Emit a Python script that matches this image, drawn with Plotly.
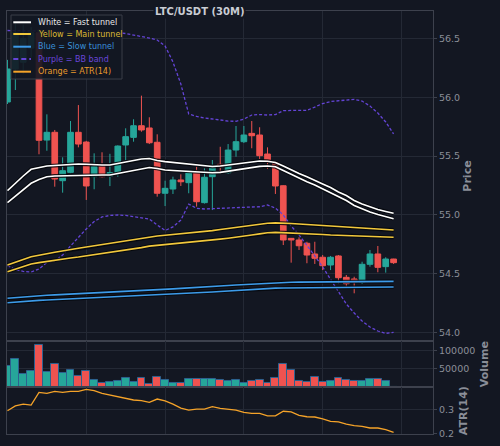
import plotly.graph_objects as go
from plotly.subplots import make_subplots

# ---------------- data ----------------
candle_idx = list(range(50))

open_ = [55.961, 56.242, 56.300, 56.420, 56.550, 55.637, 55.703, 55.291, 55.362, 55.703,
         55.620, 55.325, 55.416, 55.330, 55.359, 55.595, 55.660, 55.759, 55.740, 55.618,
         55.184, 55.220, 55.297, 55.274, 55.373, 55.104, 55.325, 55.430, 55.359, 55.552,
         55.623, 55.694, 55.680, 55.518, 55.444, 55.248, 54.800, 54.786, 54.758, 54.667,
         54.639, 54.573, 54.650, 54.468, 54.454, 54.426, 54.579, 54.667, 54.559, 54.624]
high = [56.320, 56.630, 56.620, 56.600, 56.580, 55.856, 55.723, 55.490, 55.799, 55.935,
        55.630, 55.524, 55.533, 55.520, 55.592, 55.737, 55.814, 56.015, 55.831, 55.686,
        55.291, 55.325, 55.345, 55.380, 55.410, 55.396, 55.467, 55.580, 55.603, 55.757,
        55.757, 55.799, 55.746, 55.575, 55.452, 55.252, 54.803, 54.809, 54.771, 54.771,
        54.658, 54.650, 54.658, 54.488, 54.473, 54.601, 54.701, 54.735, 54.639, 54.626]
low = [55.944, 56.063, 56.200, 56.340, 55.516, 55.546, 55.240, 55.189, 55.355, 55.575,
       55.127, 55.218, 55.318, 55.245, 55.325, 55.467, 55.623, 55.708, 55.603, 55.155,
       55.075, 55.178, 55.246, 55.184, 55.070, 55.096, 55.041, 55.354, 55.350, 55.495,
       55.612, 55.567, 55.476, 55.391, 55.178, 54.743, 54.593, 54.701, 54.588, 54.582,
       54.530, 54.530, 54.417, 54.388, 54.332, 54.411, 54.559, 54.511, 54.508, 54.582]
close = [56.242, 56.550, 56.500, 56.550, 55.635, 55.703, 55.305, 55.376, 55.703, 55.603,
         55.246, 55.410, 55.325, 55.360, 55.586, 55.666, 55.759, 55.723, 55.614, 55.184,
         55.226, 55.297, 55.282, 55.373, 55.112, 55.320, 55.410, 55.410, 55.552, 55.623,
         55.680, 55.674, 55.504, 55.453, 55.246, 54.786, 54.786, 54.737, 54.658, 54.630,
         54.567, 54.639, 54.465, 54.414, 54.428, 54.579, 54.667, 54.553, 54.624, 54.593]

volume = [57000, 76900, 37400, 43600, 114500, 40900, 63400, 39200, 48100, 30100,
          44600, 20400, 11300, 14000, 17700, 26600, 13200, 26600, 9700, 29300,
          21200, 12400, 11300, 23900, 22000, 23100, 22000, 21200, 18500, 21200,
          12400, 16700, 19400, 11300, 24700, 63400, 46200, 17700, 14000, 29300,
          14000, 16700, 25800, 20400, 16700, 16700, 22000, 23900, 16700, 0]

atr14 = [0.294, 0.314, 0.322, 0.318, 0.371, 0.367, 0.375, 0.371, 0.375, 0.375,
         0.383, 0.378, 0.367, 0.360, 0.354, 0.348, 0.339, 0.336, 0.329, 0.343,
         0.335, 0.322, 0.305, 0.297, 0.301, 0.301, 0.311, 0.304, 0.300, 0.297,
         0.287, 0.283, 0.283, 0.273, 0.273, 0.292, 0.289, 0.275, 0.269, 0.268,
         0.260, 0.250, 0.248, 0.238, 0.232, 0.229, 0.222, 0.222, 0.215, 0.204]

fast_upper = [55.207, 55.271, 55.331, 55.388, 55.403, 55.416, 55.420, 55.425, 55.429, 55.433,
              55.431, 55.426, 55.425, 55.425, 55.437, 55.450, 55.463, 55.476, 55.480, 55.463,
              55.453, 55.446, 55.437, 55.429, 55.425, 55.416, 55.412, 55.416, 55.425, 55.433,
              55.446, 55.454, 55.459, 55.457, 55.446, 55.416, 55.382, 55.352, 55.325, 55.297,
              55.263, 55.233, 55.195, 55.165, 55.122, 55.092, 55.067, 55.046, 55.029, 55.013]
fast_lower = [55.105, 55.161, 55.212, 55.269, 55.301, 55.325, 55.331, 55.333, 55.335, 55.339,
              55.339, 55.339, 55.339, 55.339, 55.352, 55.365, 55.382, 55.395, 55.403, 55.395,
              55.382, 55.378, 55.373, 55.371, 55.365, 55.361, 55.359, 55.362, 55.373, 55.382,
              55.396, 55.408, 55.413, 55.416, 55.410, 55.378, 55.344, 55.314, 55.282, 55.254,
              55.220, 55.190, 55.156, 55.122, 55.080, 55.050, 55.024, 55.003, 54.984, 54.967]
main_upper = [54.573, 54.599, 54.620, 54.643, 54.658, 54.669, 54.681, 54.694, 54.706, 54.716,
              54.726, 54.737, 54.746, 54.755, 54.765, 54.777, 54.789, 54.801, 54.813, 54.820,
              54.826, 54.832, 54.837, 54.843, 54.849, 54.857, 54.866, 54.875, 54.885, 54.894,
              54.903, 54.912, 54.921, 54.929, 54.932, 54.931, 54.926, 54.922, 54.918, 54.914,
              54.909, 54.904, 54.900, 54.896, 54.891, 54.886, 54.882, 54.878, 54.875, 54.871]
main_lower = [54.516, 54.539, 54.560, 54.582, 54.593, 54.604, 54.616, 54.624, 54.633, 54.641,
              54.651, 54.660, 54.668, 54.678, 54.685, 54.698, 54.709, 54.721, 54.734, 54.740,
              54.746, 54.752, 54.757, 54.763, 54.769, 54.777, 54.784, 54.793, 54.801, 54.808,
              54.817, 54.828, 54.838, 54.848, 54.851, 54.849, 54.846, 54.844, 54.841, 54.837,
              54.833, 54.829, 54.826, 54.824, 54.822, 54.819, 54.817, 54.814, 54.811, 54.809]
slow_upper = [54.290, 54.296, 54.302, 54.309, 54.312, 54.316, 54.319, 54.322, 54.326, 54.329,
              54.333, 54.335, 54.338, 54.341, 54.345, 54.349, 54.352, 54.356, 54.359, 54.364,
              54.367, 54.370, 54.374, 54.377, 54.382, 54.385, 54.389, 54.393, 54.398, 54.403,
              54.407, 54.411, 54.415, 54.420, 54.423, 54.425, 54.426, 54.427, 54.428, 54.429,
              54.430, 54.431, 54.432, 54.432, 54.433, 54.433, 54.434, 54.434, 54.434, 54.434]
slow_lower = [54.252, 54.258, 54.264, 54.269, 54.272, 54.275, 54.278, 54.281, 54.284, 54.287,
              54.290, 54.293, 54.295, 54.299, 54.302, 54.306, 54.309, 54.312, 54.316, 54.319,
              54.322, 54.325, 54.328, 54.332, 54.335, 54.339, 54.343, 54.347, 54.352, 54.357,
              54.361, 54.365, 54.369, 54.374, 54.376, 54.377, 54.378, 54.379, 54.380, 54.381,
              54.382, 54.383, 54.383, 54.384, 54.384, 54.385, 54.385, 54.386, 54.386, 54.386]
bb_upper = [56.570, 56.570, 56.570, 56.570, 56.570, 56.565, 56.560, 56.560, 56.560, 56.555,
            56.555, 56.555, 56.552, 56.552, 56.551, 56.544, 56.532, 56.519, 56.506, 56.489,
            56.438, 56.302, 56.114, 55.859, 55.838, 55.825, 55.819, 55.808, 55.798, 55.797,
            55.816, 55.850, 55.854, 55.850, 55.854, 55.887, 55.889, 55.887, 55.889, 55.918,
            55.948, 55.965, 55.971, 55.978, 55.984, 55.969, 55.927, 55.867, 55.791, 55.689]
bb_lower = [54.569, 54.535, 54.518, 54.513, 54.539, 54.594, 54.607, 54.658, 54.735, 54.811,
            54.880, 54.943, 54.982, 54.995, 54.999, 54.995, 54.986, 54.978, 54.965, 54.914,
            54.867, 54.897, 54.956, 55.092, 55.056, 55.050, 55.054, 55.058, 55.061, 55.063,
            55.064, 55.067, 55.069, 55.084, 55.058, 54.999, 54.905, 54.829, 54.743, 54.650,
            54.556, 54.454, 54.352, 54.241, 54.164, 54.096, 54.045, 54.011, 53.991, 53.999]

price_ticks = [54.0, 54.5, 55.0, 55.5, 56.0, 56.5]
volume_ticks = [50000, 100000]
atr_ticks = [0.2, 0.3]

# ---------------- styling ----------------
BG = "#131722"
GRID = "#242935"
AXIS = "#3d414d"
TICK_TXT = "#8b8f99"
UP = "#26a69a"
DOWN = "#ef5350"
WHITE = "#ffffff"
YELLOW = "#f2c83c"
BLUE = "#3d9be9"
PURPLE = "#6444d6"
ORANGE = "#f5a329"
FONT = "DejaVu Sans"

fig = make_subplots(rows=3, cols=1, shared_xaxes=True, vertical_spacing=0)

fig.add_trace(go.Candlestick(
    x=candle_idx, open=open_, high=high, low=low, close=close,
    increasing=dict(line=dict(color=UP, width=1), fillcolor=UP),
    decreasing=dict(line=dict(color=DOWN, width=1), fillcolor=DOWN),
    whiskerwidth=0, name="LTC/USDT", showlegend=False), row=1, col=1)

# Bollinger band
for ys in (bb_upper, bb_lower):
    fig.add_trace(go.Scatter(x=candle_idx, y=ys, mode="lines",
                             line=dict(color=PURPLE, width=1.3, dash="3px,2px"),
                             showlegend=False, hoverinfo="skip"), row=1, col=1)

# tunnels with dark outline
def tunnel(ys, color):
    fig.add_trace(go.Scatter(x=candle_idx, y=ys, mode="lines",
                             line=dict(color="rgba(5,7,12,0.85)", width=3.8),
                             showlegend=False, hoverinfo="skip"), row=1, col=1)
    fig.add_trace(go.Scatter(x=candle_idx, y=ys, mode="lines",
                             line=dict(color=color, width=1.6),
                             showlegend=False, hoverinfo="skip"), row=1, col=1)

for ys, c in ((slow_upper, BLUE), (slow_lower, BLUE), (main_upper, YELLOW),
              (main_lower, YELLOW), (fast_upper, WHITE), (fast_lower, WHITE)):
    tunnel(ys, c)

vol_colors = [UP if c >= o else DOWN for o, c in zip(open_, close)]
fig.add_trace(go.Bar(x=candle_idx, y=volume, marker=dict(color=vol_colors,
                     line=dict(color="#2d6290", width=1)),
                     showlegend=False), row=2, col=1)

fig.add_trace(go.Scatter(x=candle_idx, y=atr14, mode="lines",
                         line=dict(color=ORANGE, width=1.3), showlegend=False),
              row=3, col=1)

axis_common = dict(showline=True, linecolor=AXIS, linewidth=1.2, mirror=True,
                   gridcolor=GRID, zeroline=False)
for i in (1, 2, 3):
    fig.update_xaxes(axis_common, row=i, col=1, range=[-0.06, 54.0], tick0=0, dtick=10,
                     showticklabels=False, ticks="", showgrid=True,
                     rangeslider=dict(visible=False))

yfont = dict(family=FONT, size=9.5, color=TICK_TXT)
tfont = dict(family=FONT, size=11, color="#8a8e98")
fig.update_yaxes(axis_common, row=1, col=1, side="right", range=[53.926, 56.736],
                 tickvals=price_ticks, tickformat=".1f", ticks="outside", ticklen=3,
                 tickcolor=AXIS, tickfont=yfont,
                 title=dict(text="<b>Price</b>", font=tfont, standoff=4))
fig.update_yaxes(axis_common, row=2, col=1, side="right", range=[0, 126000],
                 tickvals=volume_ticks, tickformat="d", ticks="outside", ticklen=3,
                 tickcolor=AXIS, tickfont=yfont,
                 title=dict(text="<b>Volume</b>", font=tfont, standoff=6))
fig.update_yaxes(axis_common, row=3, col=1, side="right", range=[0.197, 0.392],
                 tickvals=atr_ticks, tickformat=".1f", ticks="outside", ticklen=3,
                 tickcolor=AXIS, tickfont=yfont,
                 title=dict(text="<b>ATR(14)</b>", font=tfont, standoff=6))

fig.update_layout(
    width=500, height=446,
    margin=dict(l=7, r=67, t=11, b=12),
    paper_bgcolor=BG, plot_bgcolor=BG,
    font=dict(family=FONT, color=TICK_TXT),
    bargap=0, boxgap=0.2, boxgroupgap=0.1, showlegend=False,
    yaxis=dict(domain=[0.2199, 1.0]),
    yaxis2=dict(domain=[0.1104, 0.2199]),
    yaxis3=dict(domain=[0.0, 0.1104]),
)

# title sitting on the top border
fig.add_annotation(xref="paper", yref="paper", x=0.4523, y=1.0, xanchor="center",
                   yanchor="middle", showarrow=False, bgcolor=BG, borderpad=1,
                   text="<b>LTC/USDT (30M)</b>",
                   font=dict(family=FONT, size=10, color="#c9ccd4"))

# legend box (drawn in paper coordinates)
fig.add_shape(type="rect", xref="paper", yref="paper", x0=0.0094, x1=0.270,
              y0=0.8392, y1=0.9905, fillcolor="rgba(19,23,34,0.9)",
              line=dict(color="#3a3e49", width=1), layer="above")
legend_items = [
    ("White = Fast tunnel", WHITE, "#e8e8e8", "solid"),
    ("Yellow = Main tunnel", YELLOW, "#dcba32", "solid"),
    ("Blue = Slow tunnel", BLUE, "#3a90d8", "solid"),
    ("Purple = BB band", PURPLE, "#6a46da", "5px,3px"),
    ("Orange = ATR(14)", ORANGE, "#e99a2c", "solid"),
]
row_y = [0.9733, 0.9456, 0.9156, 0.8865, 0.8565]
for (label, lc, tc, dash), yy in zip(legend_items, row_y):
    fig.add_shape(type="line", xref="paper", yref="paper", x0=0.0148, x1=0.0563,
                  y0=yy, y1=yy, line=dict(color=lc, width=2, dash=dash), layer="above")
    fig.add_annotation(xref="paper", yref="paper", x=0.0690, y=yy, xanchor="left",
                       yanchor="middle", showarrow=False, text=label,
                       font=dict(family=FONT, size=8, color=tc))

fig.write_html("out.html")
